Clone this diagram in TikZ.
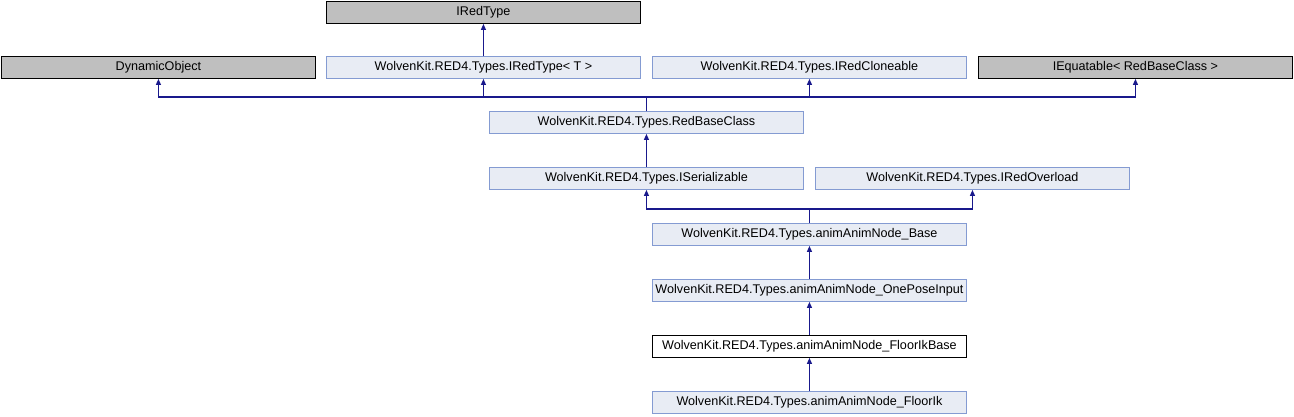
\documentclass[tikz,border=0pt]{standalone}
\usepackage{fontspec}
\setmainfont{Liberation Sans}
\usetikzlibrary{arrows.meta, positioning}
\definecolor{edgeblue}{RGB}{25,25,140}
\definecolor{boxfill}{RGB}{232,236,244}
\definecolor{boxline}{RGB}{132,155,210}
\definecolor{extfill}{RGB}{191,191,191}

\begin{document}
\begin{tikzpicture}[x=1pt, y=-1pt,
    cls/.style={draw=boxline, fill=boxfill, line width=0.9pt, minimum width=314pt,
      minimum height=22pt, inner sep=0pt, anchor=north west,
      font=\fontsize{12.6}{14}\selectfont},
    ext/.style={cls, draw=black, fill=extfill},
    cur/.style={cls, draw=black, fill=white},
    inh/.style={edgeblue, line width=1.2pt, -{Triangle[length=6pt, width=5pt]}}]
  \useasboundingbox (0,0) rectangle (1294,416);
  % top rows
  \node[ext] (iredtype) at (326,1) {IRedType};
  \node[ext] (dynobj) at (1,56) {DynamicObject};
  \node[cls] (iredtypet) at (326,56) {WolvenKit.RED4.Types.IRedType< T >};
  \node[cls] (cloneable) at (652,56) {WolvenKit.RED4.Types.IRedCloneable};
  \node[ext] (equatable) at (978,56) {IEquatable< RedBaseClass >};
  % middle
  \node[cls] (redbase) at (489,111) {WolvenKit.RED4.Types.RedBaseClass};
  \node[cls] (serial) at (489,167) {WolvenKit.RED4.Types.ISerializable};
  \node[cls] (overload) at (815,167) {WolvenKit.RED4.Types.IRedOverload};
  % anim chain
  \node[cls] (animbase) at (652,223) {WolvenKit.RED4.Types.animAnimNode\_Base};
  \node[cls] (oneinput) at (652,279) {WolvenKit.RED4.Types.animAnimNode\_OnePoseInput};
  \node[cur] (ikbase) at (652,335) {WolvenKit.RED4.Types.animAnimNode\_FloorIkBase};
  \node[cls] (floorik) at (652,391) {WolvenKit.RED4.Types.animAnimNode\_FloorIk};
  % bus lines
  \coordinate (bus1) at (646,97);
  \coordinate (bus2) at (809,209);
  % edges
  \draw[inh] (iredtypet) -- (iredtype);
  \foreach \p in {dynobj, iredtypet, cloneable, equatable}
    \draw[inh] (redbase.north) |- (bus1 -| \p) -- (\p.south);
  \draw[inh] (serial) -- (redbase);
  \foreach \p in {serial, overload}
    \draw[inh] (animbase.north) |- (bus2 -| \p) -- (\p.south);
  \draw[inh] (oneinput) -- (animbase);
  \draw[inh] (ikbase) -- (oneinput);
  \draw[inh] (floorik) -- (ikbase);
\end{tikzpicture}
\end{document}
